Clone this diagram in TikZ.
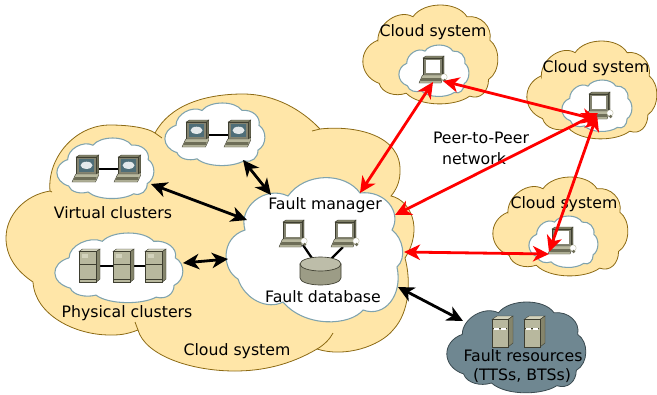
\documentclass[tikz,border=0pt]{standalone}
\usepackage{fontspec}
\setmainfont{DejaVu Sans}
\usetikzlibrary{arrows.meta}
\definecolor{cloudyellow}{HTML}{FFE6A8}
\definecolor{cloudedge}{HTML}{8C6A14}
\definecolor{whiteedge}{HTML}{7FA3AE}
\definecolor{faultfill}{HTML}{6F8791}
\definecolor{faultedge}{HTML}{3A4A50}
\definecolor{devdark}{HTML}{6E6E58}
\definecolor{devside}{HTML}{85856C}
\definecolor{devfront}{HTML}{B8B89E}
\definecolor{devtop}{HTML}{D2D2BC}
\definecolor{devline}{HTML}{3E3E30}
\definecolor{screenblue}{HTML}{4F6E78}
\tikzset{
  yellowcloud/.style={fill=cloudyellow,draw=cloudedge,line width=.6pt},
  whitecloud/.style={fill=white,draw=whiteedge,line width=.8pt},
  faultcloud/.style={fill=faultfill,draw=faultedge,line width=.6pt},
  label/.style={inner sep=0pt,yshift=-1pt,font=\fontsize{11.8}{14}\selectfont,text=black},
  link/.style={line width=1.7pt,black},
  blackarrow/.style={line width=2.1pt,black,{Stealth[length=12pt,width=11.5pt,inset=3.5pt]}-{Stealth[length=12pt,width=11.5pt,inset=3.5pt]}},
  redarrow/.style={line width=2.1pt,red,{Stealth[length=12pt,width=11.5pt,inset=3.5pt]}-{Stealth[length=12pt,width=11.5pt,inset=3.5pt]}},
  devedge/.style={draw=devline,line width=.3pt}
}
\newcommand\cloudat[5]{%
  \begin{scope}[shift={(#2,#3)},xscale={#4-#2},yscale={#5-#3}]
  \draw[#1] (.11,.36) .. controls (.11,.18) and (.27,.04) .. (.37,.12)
    .. controls (.45,-.04) and (.70,-.04) .. (.77,.12)
    .. controls (.87,.10) and (.96,.22) .. (.94,.36)
    .. controls (1.02,.44) and (1.02,.68) .. (.93,.76)
    .. controls (.93,.88) and (.87,.97) .. (.79,.93)
    .. controls (.68,1.04) and (.42,1.04) .. (.32,.90)
    .. controls (.24,.94) and (.14,.90) .. (.12,.80)
    .. controls (-.04,.72) and (-.04,.44) .. cycle;
  \end{scope}}
\newcommand\laptopbody[1]{%
  \fill[devside,devedge] (4,2) -- (7,0) -- (25,0) -- (23,2) -- cycle;
  \fill[devdark,devedge] (23,2) -- (25,0) -- (25,17) -- (23,19) -- cycle;
  \fill[devdark!85!white,devedge] (4,2) rectangle (23,19);
  \fill[devfront,devedge] (3.5,19) -- (23,19) -- (25,17) -- (25,20) -- (22,27) -- (0,27) -- cycle;
  \fill[devdark] (2.6,22) -- (23,22) -- (22.5,25) -- (1.2,25) -- cycle;
  \fill[#1] (6.5,4) rectangle (20.8,16.5);}
\newcommand\laptop[3]{%
  \coordinate (#1) at (#2+13,#3+12);
  \begin{scope}[shift={(#2,#3)},xscale=1.07]
  \laptopbody{screenblue}
  \fill[white!85!screenblue] (13.6,10.3) ellipse (5.6 and 3.6);
  \end{scope}}
\newcommand\laptopm[3]{%
  \coordinate (#1) at (#2+13,#3+12);
  \begin{scope}[shift={(#2,#3)}]
  \laptopbody{white}
  \fill[white,draw=devfront,line width=.3pt] (25,21) circle (3.2);
  \fill[devdark] (25.6,24.5) circle (1.8);
  \end{scope}}
\newcommand\towerserver[3]{%
  \coordinate (#1) at (#2+10,#3+17);
  \begin{scope}[shift={(#2,#3)}]
  \fill[devtop,devedge] (0,2.5) -- (3.5,0) -- (21,0) -- (17.5,2.5) -- cycle;
  \fill[devside,devedge] (17.5,2.5) -- (21,0) -- (21,30) -- (17.5,33) -- cycle;
  \fill[devfront,devedge] (0,2.5) rectangle (17.5,33);
  \draw[devline,line width=.6pt] (0,15.5) -- (17.5,15.5);
  \fill[devtop] (2.5,5) rectangle (9,9);
  \draw[devline,line width=.3pt] (0,30.5) -- (17.5,30.5);
  \end{scope}}
\newcommand\rackserver[3]{%
  \coordinate (#1) at (#2+10,#3+15);
  \begin{scope}[shift={(#2,#3)}]
  \fill[devtop,devedge] (0,3.5) -- (5,0) -- (21,0) -- (16,3.5) -- cycle;
  \fill[devside,devedge] (16,3.5) -- (21,0) -- (21,27) -- (16,31) -- cycle;
  \fill[devfront,devedge] (0,3.5) rectangle (16,31);
  \draw[devline,line width=.5pt] (1,12) -- (15,12);
  \fill[white] (1.5,12) rectangle (7,14);
  \fill[white] (8.5,12) rectangle (14,14);
  \end{scope}}
\begin{document}
\begin{tikzpicture}[x=.75pt,y=-.75pt]
\useasboundingbox (0,0) rectangle (657,394);
% large cloud
\draw[yellowcloud] (50,191)
  .. controls (47,158) and (75,125) .. (110,125)
  .. controls (130,125) and (148,128) .. (155,133)
  .. controls (170,105) and (205,94) .. (243,94)
  .. controls (275,94) and (302,110) .. (320,129)
  .. controls (355,125) and (402,135) .. (400,172)
  .. controls (400,182) and (396,190) .. (391,196)
  .. controls (410,200) and (424,228) .. (405,258)
  .. controls (411,280) and (410,312) .. (393,330)
  .. controls (380,346) and (345,358) .. (317,349)
  .. controls (290,365) and (262,371) .. (235,371)
  .. controls (190,371) and (145,355) .. (138,330)
  .. controls (125,335) and (118,335) .. (110,335)
  .. controls (75,335) and (35,315) .. (33,282)
  .. controls (15,270) and (6,255) .. (6,238)
  .. controls (6,215) and (25,195) .. cycle;
\draw[yellowcloud] (138,330) -- (135,322);
\draw[yellowcloud] (317,349) .. controls (324,345) and (330,339) .. (333,333);
\draw[yellowcloud] (155,133) -- (162,138);
\draw[yellowcloud] (320,129) -- (312,131);
\draw[yellowcloud] (50,191) -- (52,192);
% small yellow clouds
\cloudat{yellowcloud}{363}{5}{498}{103}
\cloudat{yellowcloud}{527}{41}{657}{138}
\cloudat{yellowcloud}{493}{177}{628}{275}
\cloudat{faultcloud}{447}{302}{586}{392}
% white clouds
\cloudat{whitecloud}{399}{45}{469}{96}
\cloudat{whitecloud}{562}{80}{632}{131}
\cloudat{whitecloud}{529}{216}{598}{267}
\cloudat{whitecloud}{57}{138}{154}{198}
\cloudat{whitecloud}{165}{103}{265}{165}
\cloudat{whitecloud}{55}{233}{183}{302}
\draw[whitecloud] (245,230)
  .. controls (238,207) and (265,185) .. (288,196)
  .. controls (305,172) and (345,172) .. (360,193)
  .. controls (385,190) and (402,212) .. (392,230)
  .. controls (403,238) and (407,258) .. (397,267)
  .. controls (403,295) and (385,318) .. (363,310)
  .. controls (350,326) and (305,328) .. (283,302)
  .. controls (268,310) and (245,300) .. (238,279)
  .. controls (222,270) and (220,238) .. cycle;
% endpoints of the arrows
\coordinate (virtual) at (151,184);
\coordinate (fmvirtual) at (247,220);
\coordinate (topcl) at (243,160);
\coordinate (fmtop) at (271,195);
\coordinate (phys) at (183,263);
\coordinate (fmphys) at (228,259);
\coordinate (fmres) at (398,287);
\coordinate (res) at (463,321);
\coordinate (c1a) at (433,82);
\coordinate (fmc1) at (360,193);
\coordinate (c1b) at (443,81);
\coordinate (c2a) at (598,120);
\coordinate (fmc2) at (395,215);
\coordinate (c2b) at (598,113);
\coordinate (c2c) at (597,115);
\coordinate (c3a) at (549,252);
\coordinate (fmc3) at (404,252);
\coordinate (c3b) at (549,254);
% clusters
\coordinate (v1) at (85,169);\coordinate (v2) at (127,169);
\draw[link] (v1) -- (v2);
\laptop{vc1}{72}{155}\laptop{vc2}{114}{155}
\coordinate (t1) at (195,135);\coordinate (t2) at (237,135);
\draw[link] (t1) -- (t2);
\laptop{tc1}{182}{120}\laptop{tc2}{224}{120}
\coordinate (p1) at (90,266);\coordinate (p3) at (155,266);
\draw[link] (p1) -- (p3);
\towerserver{ps1}{79}{249}\towerserver{ps2}{113}{249}\towerserver{ps3}{145}{249}
% fault manager
\coordinate (db) at (320,270);
\coordinate (f1) at (303,245);\coordinate (f2) at (343,247);
\draw[link] (f1) -- (db);\draw[link] (f2) -- (db);
\laptopm{fm1}{279}{220}\laptopm{fm2}{331}{220}
\fill[devfront!85!black,draw=devline,line width=.5pt] (300,264) -- (300,278) arc[start angle=180,end angle=0,x radius=20.5,y radius=7] -- (341,264) -- cycle;
\fill[devtop!90!black,draw=devline,line width=.5pt] (320.5,264) ellipse (20.5 and 7);
% cloud computers
\laptopm{cc1}{419}{56}\laptopm{cc2}{585}{92}\laptopm{cc3}{548}{227}
% fault servers
\rackserver{fr1}{492}{316}\rackserver{fr2}{524}{316}
% arrows
\draw[blackarrow] (virtual) -- (fmvirtual);
\draw[blackarrow] (topcl) -- (fmtop);
\draw[blackarrow] (phys) -- (fmphys);
\draw[blackarrow] (fmres) -- (res);
% labels
\node[label] (l1) at (433,31) {Cloud system};
\node[label] (l2) at (596,67) {Cloud system};
\node[label] (l3) at (564,203) {Cloud system};
\node[label] (l4) at (481,137) {Peer-to-Peer};
\node[label] (l5) at (474,157) {network};
\node[label] (l6) at (113,211) {Virtual clusters};
\node[label] (l7) at (127,312) {Physical clusters};
\node[label] (l8) at (237,350) {Cloud system};
\node[label] (l9) at (325,204) {Fault manager};
\node[label] (l10) at (323,295) {Fault database};
\node[label] (l11) at (523,354) {Fault resources};
\node[label] (l12) at (522,374) {(TTSs, BTSs)};
% red arrows
\draw[redarrow] (c1a) -- (fmc1);
\draw[redarrow] (c1b) -- (c2a);
\draw[redarrow] (fmc2) -- (c2b);
\draw[redarrow] (c2c) -- (c3a);
\draw[redarrow] (fmc3) -- (c3b);
\end{tikzpicture}
\end{document}
